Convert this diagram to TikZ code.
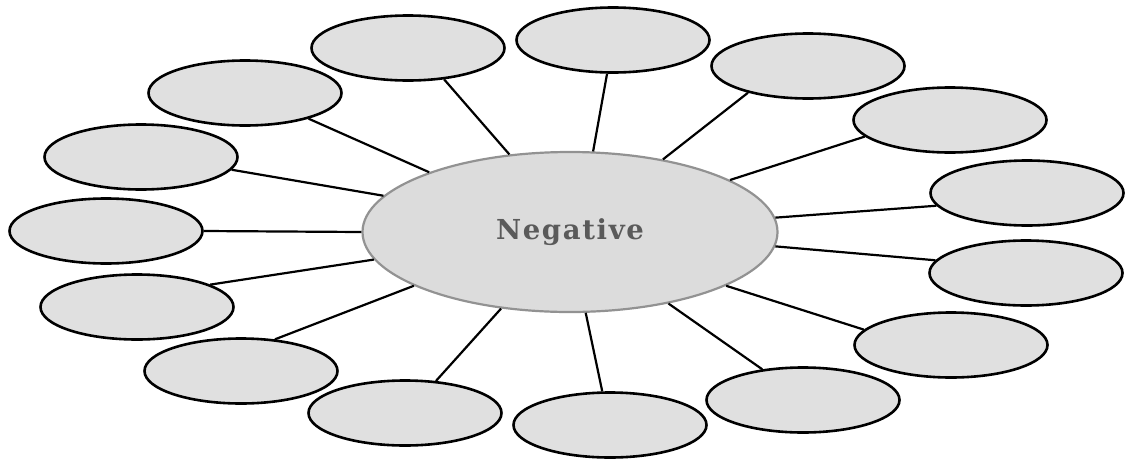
\documentclass[tikz,border=0pt]{standalone}
\usepackage{fontspec}
\newfontfamily\negfont[LetterSpace=6]{DejaVu Serif}
\usetikzlibrary{shapes.geometric}
\definecolor{outerfill}{HTML}{E0E0E0}
\definecolor{centerfill}{HTML}{DCDCDC}
\definecolor{centerline}{HTML}{929292}
\definecolor{textgray}{HTML}{5A5A5A}
\tikzset{
  outerbox/.style={ellipse, draw=black, line width=2.6pt, fill=outerfill, minimum width=193pt, minimum height=65pt, inner sep=0pt},
  centerbox/.style={ellipse, draw=centerline, line width=2.2pt, fill=centerfill, minimum width=415pt, minimum height=160pt, inner sep=0pt, font=\negfont\bfseries\fontsize{27.5}{32}\selectfont, text=textgray},
  spoke/.style={draw=black, line width=2.2pt}
}
\begin{document}
\begin{tikzpicture}[x=1pt,y=-1pt]
\useasboundingbox (0,0) rectangle (1134,466);
\node[centerbox] (c) at (570,232) {Negative};
\node[outerbox] (o1) at (613,40) {};
\node[outerbox] (o2) at (408,48) {};
\node[outerbox] (o3) at (245,93) {};
\node[outerbox] (o4) at (141,157) {};
\node[outerbox] (o5) at (106,231) {};
\node[outerbox] (o6) at (137,307) {};
\node[outerbox] (o7) at (241,371) {};
\node[outerbox] (o8) at (405,413) {};
\node[outerbox] (o9) at (610,425) {};
\node[outerbox] (o10) at (803,400) {};
\node[outerbox] (o11) at (951,345) {};
\node[outerbox] (o12) at (1026,273) {};
\node[outerbox] (o13) at (1027,193) {};
\node[outerbox] (o14) at (950,120) {};
\node[outerbox] (o15) at (808,66) {};
\foreach \i/\a/\b in {1/74.8/260.3, 2/128.9/319.8, 3/157.1/338.8, 4/169.6/352,
  5/180/0, 6/188.4/17.7, 7/199.7/43.3, 8/228.1/46.8, 9/281.2/103.6,
  10/324.2/143.3, 11/341.5/170.3, 12/356.4/172.6, 13/4.1/188.8,
  14/18.2/191.1, 15/38.1/204} {
  \path[spoke] (c.\a) -- (o\i.\b);
}
\end{tikzpicture}
\end{document}
